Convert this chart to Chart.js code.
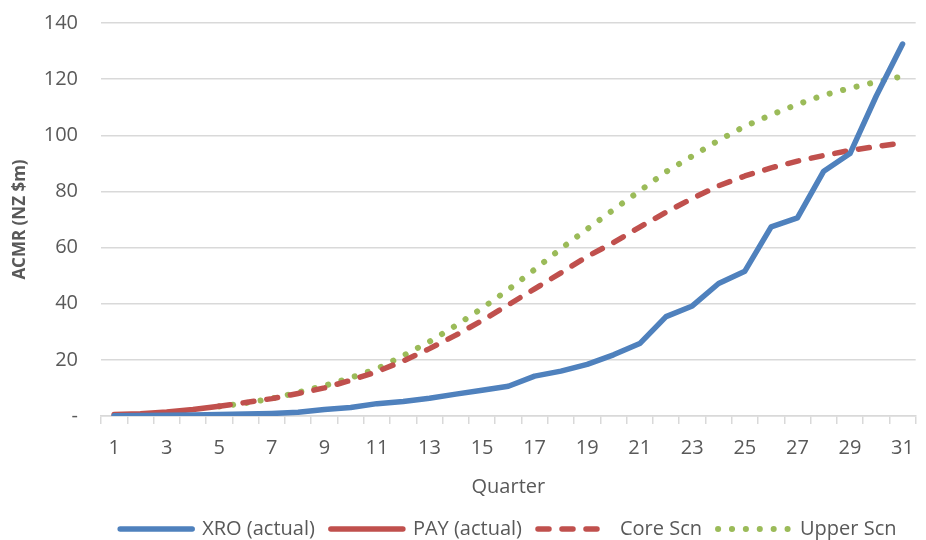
<!DOCTYPE html>
<html>
<head>
<meta charset="utf-8">
<script src="https://cdn.jsdelivr.net/npm/chart.js@4.4.1/dist/chart.umd.min.js"></script>
<style>
  html, body {margin: 0; padding: 0; background: #fff;}
  #wrap {width: 926px; height: 540px;}
</style>
</head>
<body>
<div id="wrap"><canvas id="acmrChart" width="926" height="540"></canvas></div>
<script>
// Quarters since listing
const quarters = [1, 2, 3, 4, 5, 6, 7, 8, 9, 10, 11, 12, 13, 14, 15, 16,
  17, 18, 19, 20, 21, 22, 23, 24, 25, 26, 27, 28, 29, 30, 31];

// ACMR in NZ $m
const xroActual = [0.1, 0.2, 0.3, 0.4, 0.5, 0.7, 0.9, 1.3, 2.3, 3.0, 4.4, 5.2, 6.3, 7.8, 9.2, 10.6,
  14.2, 16.0, 18.4, 21.8, 25.8, 35.4, 39.2, 47.2, 51.6, 67.4, 70.6, 87.2, 93.5, 114.0, 132.5];
const payActual = [0.5, 0.8, 1.4, 2.3, 3.5, null, null, null, null, null, null, null, null, null, null, null,
  null, null, null, null, null, null, null, null, null, null, null, null, null, null, null];
const coreScn = [null, null, null, null, 3.5, 4.8, 6.2, 8.0, 10.0, 12.7, 15.8, 19.6, 24.0, 28.8, 34.0, 39.6,
  45.3, 51.0, 56.8, 61.8, 67.3, 72.6, 77.5, 82.0, 85.5, 88.4, 90.8, 92.8, 94.6, 96.0, 97.3];
const upperScn = [null, null, null, null, 3.4, 4.6, 6.2, 8.4, 10.8, 13.6, 16.8, 21.5, 26.5, 32.2, 38.4, 45.0,
  52.2, 59.6, 66.6, 73.5, 80.2, 87.0, 92.6, 98.2, 103.2, 107.3, 111.0, 114.3, 116.8, 119.0, 121.0];

const textColor = "#595959";
const gridColor = "#d9d9d9";
const fontFamily = "'Open Sans', sans-serif";

// Legend entries drawn as short line samples with the dataset's own dash style
function lineLegendLabels(chart) {
  return chart.data.datasets.map((ds, i) => ({
    text: ds.label, datasetIndex: i, hidden: false, fontColor: textColor,
    fillStyle: ds.borderColor, strokeStyle: ds.borderColor, lineWidth: ds.borderWidth,
    lineDash: ds.borderDash, lineCap: ds.borderCapStyle, lineJoin: "round", pointStyle: "line"
  }));
}

new Chart(document.getElementById("acmrChart"), {
  type: "line",
  data: {
    labels: quarters,
    datasets: [
      {label: "XRO (actual)", data: xroActual, borderColor: "#4f81bd", backgroundColor: "#4f81bd",
        borderWidth: 5.5, borderDash: [], borderCapStyle: "round", borderJoinStyle: "round"},
      {label: "PAY (actual)", data: payActual, borderColor: "#c0504d", backgroundColor: "#c0504d",
        borderWidth: 5.5, borderDash: [], borderCapStyle: "round", borderJoinStyle: "round"},
      {label: "Core Scn", data: coreScn, borderColor: "#c0504d", backgroundColor: "#c0504d",
        borderWidth: 5.5, borderDash: [11, 13], borderCapStyle: "round", borderJoinStyle: "round"},
      {label: "Upper Scn", data: upperScn, borderColor: "#9bbb59", backgroundColor: "#9bbb59",
        borderWidth: 6, borderDash: [0.1, 13.8], borderCapStyle: "round", borderJoinStyle: "round"}
    ]
  },
  options: {
    responsive: false, animation: false,
    layout: {padding: {left: 0, right: 1, top: 23, bottom: -9}},
    elements: {point: {radius: 0, hoverRadius: 0}, line: {tension: 0}},
    scales: {
      x: {
        offset: true,
        grid: {display: true, drawOnChartArea: false, drawTicks: true, tickLength: 8, color: gridColor, lineWidth: 1.5, offset: true},
        border: {display: true, color: gridColor, width: 1.5},
        ticks: {
          autoSkip: false, maxRotation: 0, padding: 12, color: textColor, font: {family: fontFamily, size: 20},
          callback: (v, i) => i % 2 === 0 ? String(quarters[i]) : ""
        },
        title: {display: true, text: "Quarter", color: textColor, font: {family: fontFamily, size: 20}, padding: {top: 3, bottom: 4}}
      },
      y: {
        min: 0, max: 140,
        afterFit: scale => {
          scale.width = 101;
          scale.paddingTop = 0;
          scale.paddingBottom = 0;
        },
        grid: {color: gridColor, lineWidth: 1.5, drawTicks: false},
        border: {display: false},
        ticks: {
          stepSize: 20, padding: 23, color: textColor, font: {family: fontFamily, size: 20},
          callback: v => v === 0 ? "-" : v
        },
        title: {display: true, text: "ACMR (NZ $m)", color: textColor, font: {family: fontFamily, size: 17, weight: "bold"}, padding: {top: 10, bottom: 0}}
      }
    },
    plugins: {
      tooltip: {enabled: false},
      legend: {
        position: "bottom", fullSize: false,
        labels: {
          usePointStyle: true, pointStyle: "line", pointStyleWidth: 72, padding: 16,
          color: textColor, font: {family: fontFamily, size: 20},
          generateLabels: lineLegendLabels
        }
      }
    }
  }
});
</script>
</body>
</html>
